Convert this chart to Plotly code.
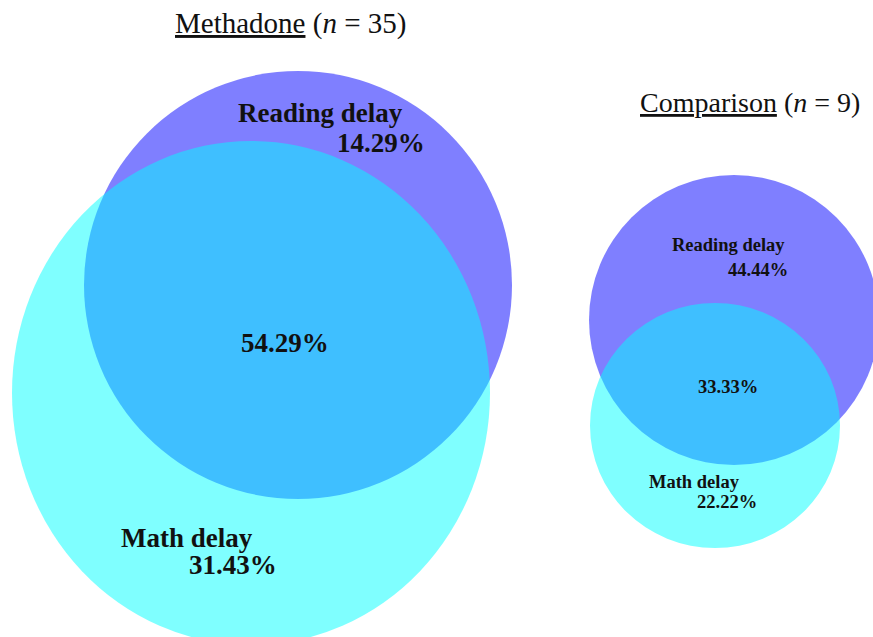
import plotly.graph_objects as go

# ---- data ----
groups = ["Methadone", "Comparison"]
group_n = [35, 9]
set_labels = ["Reading delay", "Math delay"]
reading_only_pct = [14.29, 44.44]
math_only_pct = [31.43, 22.22]
both_pct = [54.29, 33.33]

# ---- layout geometry (pixel space of the 873x637 window) ----
W, H = 873, 637
# ellipse bounds: (x0, x1, y0, y1) for reading circle, math circle per group
reading_box = [(84, 512, 71, 499), (589, 879, 175, 465)]
math_box = [(12, 490, 141, 645), (590, 840, 303, 548)]
title_pos = [(173, 23), (638, 102)]
title_size = [29, 28]
label_size = [27, 18.5]
# label anchors (left x, mid y)
reading_lbl = [(236, 113), (670, 245)]
reading_pct = [(335, 143), (726, 270)]
both_lbl = [(239, 343), (696, 387)]
math_lbl = [(119, 538), (647, 482)]
math_pct = [(187, 565), (695, 502)]

FONT = "Liberation Serif"
TXT = "#111111"

fig = go.Figure()
shapes = []
annotations = []

def ann(x, y, text, size):
    annotations.append(dict(
        x=x, y=y, xref="x", yref="y", text=text, showarrow=False,
        xanchor="left", yanchor="middle",
        font=dict(family=FONT, size=size, color=TXT)))

for i in range(len(groups)):
    x0, x1, y0, y1 = reading_box[i]
    shapes.append(dict(type="circle", xref="x", yref="y", x0=x0, x1=x1, y0=y0, y1=y1,
                       fillcolor="#0000FF", opacity=0.5, line=dict(width=0), layer="below"))
    x0, x1, y0, y1 = math_box[i]
    shapes.append(dict(type="circle", xref="x", yref="y", x0=x0, x1=x1, y0=y0, y1=y1,
                       fillcolor="#00FFFF", opacity=0.5, line=dict(width=0), layer="below"))

    tx, ty = title_pos[i]
    ann(tx, ty, f"<u>{groups[i]}</u> (<i>n</i> = {group_n[i]})", title_size[i])
    s = label_size[i]
    ann(*reading_lbl[i], f"<b>{set_labels[0]}</b>", s)
    ann(*reading_pct[i], f"<b>{reading_only_pct[i]:.2f}%</b>", s)
    ann(*both_lbl[i], f"<b>{both_pct[i]:.2f}%</b>", s)
    ann(*math_lbl[i], f"<b>{set_labels[1]}</b>", s)
    ann(*math_pct[i], f"<b>{math_only_pct[i]:.2f}%</b>", s)

fig.update_layout(
    width=W, height=H,
    margin=dict(l=0, r=0, t=0, b=0),
    paper_bgcolor="white", plot_bgcolor="white",
    xaxis=dict(range=[0, W], visible=False, fixedrange=True),
    yaxis=dict(range=[H, 0], visible=False, fixedrange=True),
    shapes=shapes, annotations=annotations, showlegend=False,
)

fig.write_html(
    "out.html",
    config={"displayModeBar": False, "staticPlot": True},
    post_script="document.body.style.margin='0';document.body.style.overflow='hidden';",
)
